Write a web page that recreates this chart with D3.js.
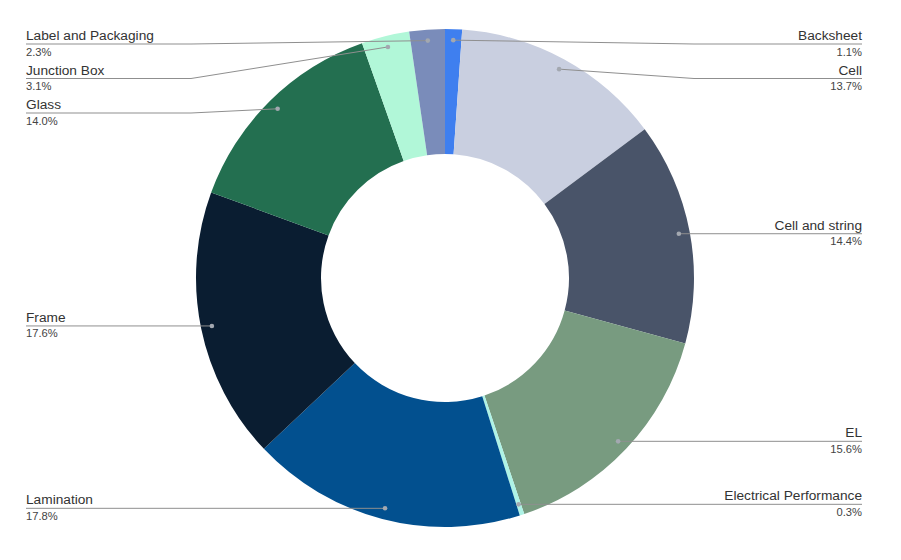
<!DOCTYPE html>
<html>
<head>
<meta charset="utf-8">
<script src="https://cdn.jsdelivr.net/npm/d3@7"></script>
<style>
  body { margin: 0; background: #fff; }
  svg { font-family: "Liberation Sans", Arial, sans-serif; }
</style>
</head>
<body>
<svg id="chart" width="901" height="560"></svg>
<script>
const width = 901;
const height = 560;

// values in percent, clockwise from 12 o'clock
const categories = ["Backsheet", "Cell", "Cell and string", "EL", "Electrical Performance",
                    "Lamination", "Frame", "Glass", "Junction Box", "Label and Packaging"];
const shares = [1.1, 13.7, 14.4, 15.6, 0.3, 17.8, 17.6, 14.0, 3.1, 2.3];
const colors = ["#3f7fef", "#c9cfe0", "#495469", "#789b80", "#aef3e6",
                "#02508f", "#0a1d31", "#236f50", "#b1f7d8", "#7a8cba"];

const cx = 445, cy = 278;
const outerR = 249, innerR = 124, dotR = 238;

const svg = d3.select("#chart");
const g = svg.append("g").attr("transform", `translate(${cx},${cy})`);

const pie = d3.pie().sort(null).value(d => d.value);
const arcs = pie(categories.map((c, i) => ({ name: c, value: shares[i], color: colors[i] })));

const arc = d3.arc().innerRadius(innerR).outerRadius(outerR);

g.selectAll("path.slice")
    .data(arcs)
    .enter()
    .append("path")
    .attr("class", "slice")
    .attr("d", arc)
    .attr("fill", d => d.data.color);

// leader label layout: push labels down so they don't overlap
const labels = arcs.map(d => {
    const a = (d.startAngle + d.endAngle) / 2;
    return {
        d: d,
        side: a < Math.PI ? 1 : -1,
        x: Math.sin(a) * dotR,
        y: -Math.cos(a) * dotR
    };
});

const minTop = 44 - cy, gap = 34.5;
[1, -1].forEach(side => {
    let prev = -Infinity;
    labels.filter(l => l.side === side)
        .sort((a, b) => a.y - b.y)
        .forEach(l => {
            l.ly = Math.max(l.y, prev + gap, minTop);
            prev = l.ly;
        });
});

const leftX = 26 - cx, rightX = 862 - cx;

labels.forEach(l => {
    const endX = l.side > 0 ? rightX : leftX;
    const elbowX = l.side > 0 ? 249 : -254;
    g.append("path")
        .attr("d", d3.line()([[l.x, l.y], [elbowX, l.ly], [endX, l.ly]]))
        .attr("fill", "none")
        .attr("stroke", "#8f8f8f")
        .attr("stroke-width", 1);
    g.append("circle")
        .attr("cx", l.x)
        .attr("cy", l.y)
        .attr("r", 2.3)
        .attr("fill", "#a3a8b0");
    const anchor = l.side > 0 ? "end" : "start";
    g.append("text")
        .attr("x", endX)
        .attr("y", l.ly - 4)
        .attr("text-anchor", anchor)
        .attr("font-size", 13.7)
        .attr("fill", "#333")
        .text(l.d.data.name);
    g.append("text")
        .attr("x", endX)
        .attr("y", l.ly + 11.5)
        .attr("text-anchor", anchor)
        .attr("font-size", 11.2)
        .attr("fill", "#444")
        .text(l.d.data.value.toFixed(1) + "%");
});
</script>
</body>
</html>
